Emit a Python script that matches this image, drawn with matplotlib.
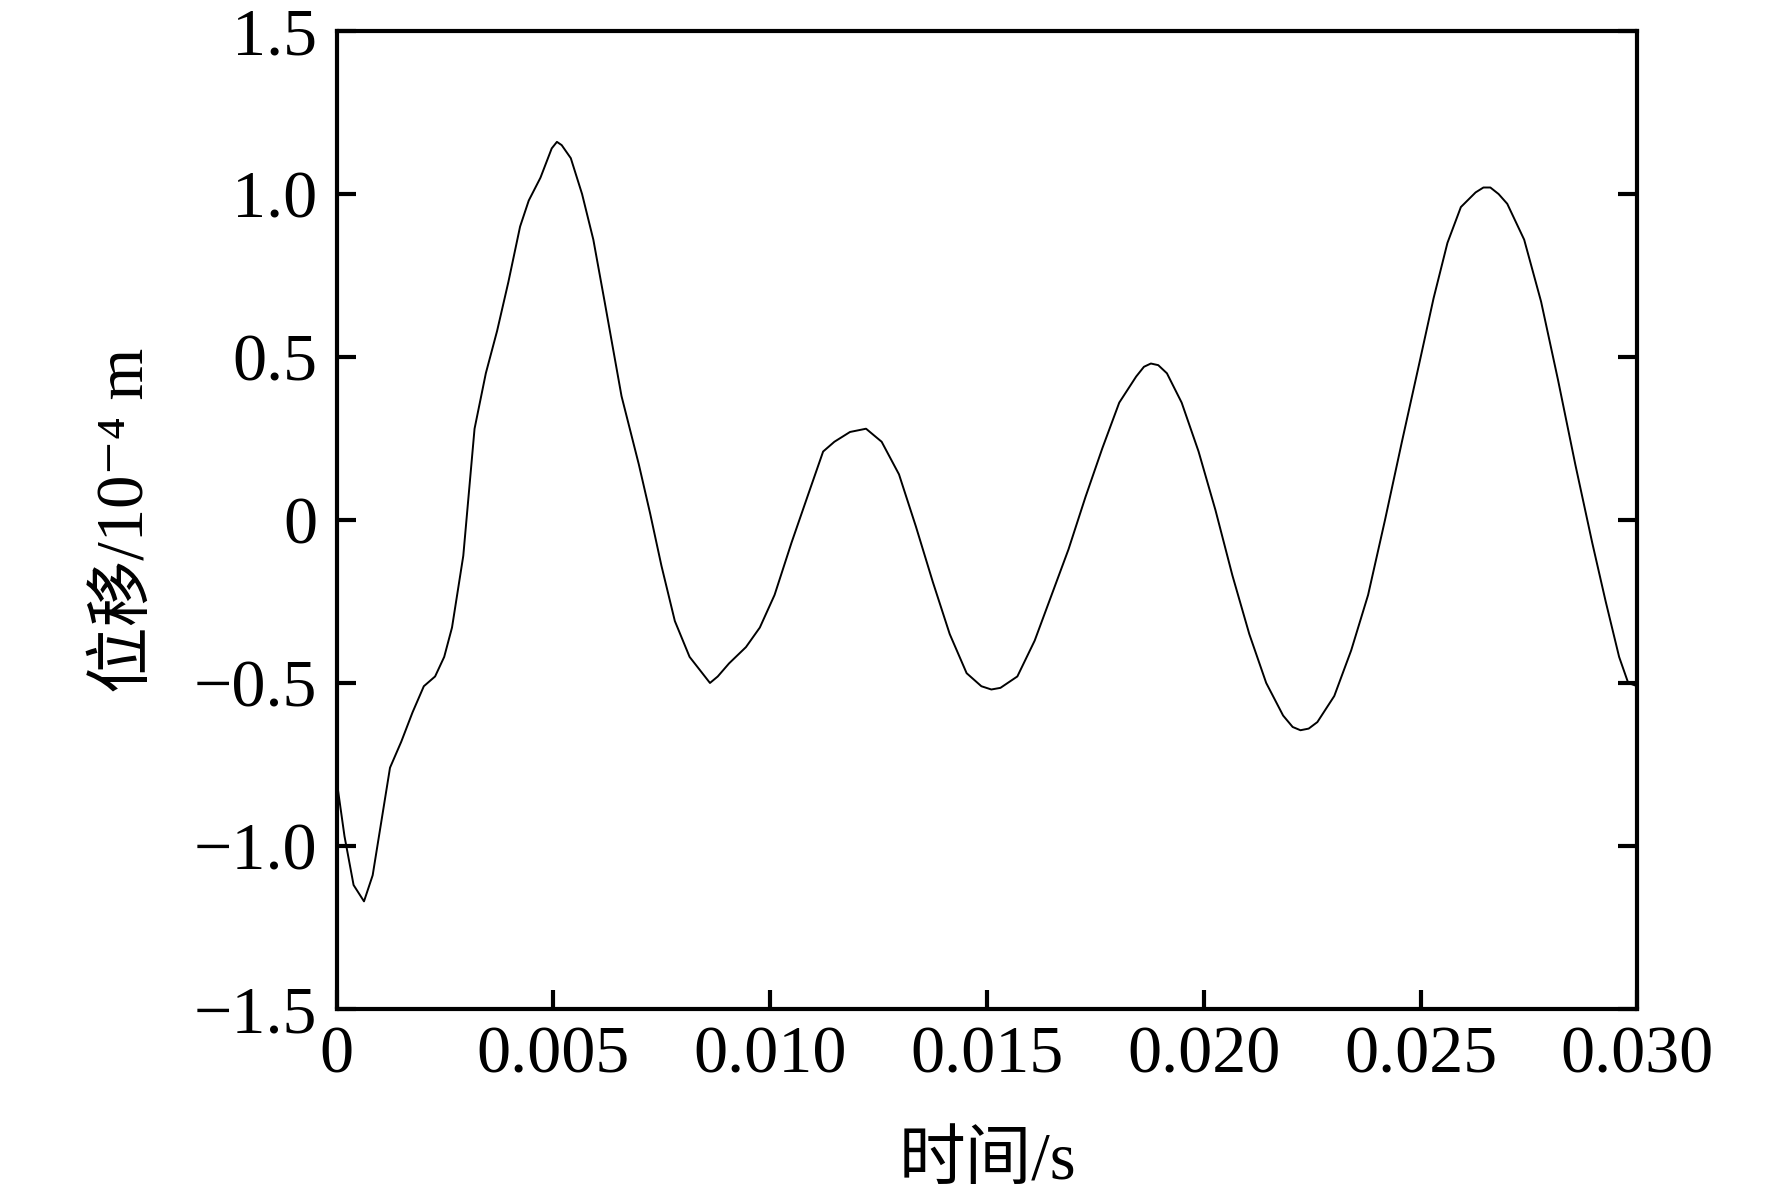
import matplotlib
matplotlib.use("Agg")
import matplotlib.pyplot as plt
from matplotlib.ticker import FuncFormatter

plt.rcParams['font.family'] = ['Liberation Serif', 'Noto Sans CJK SC', 'DejaVu Sans']

time_s = [0.0, 0.00018, 0.00039, 0.00063, 0.00083, 0.00123, 0.00149, 0.00175, 0.00201, 0.00227,
          0.00248, 0.00266, 0.00292, 0.00318, 0.00344, 0.00370, 0.00396, 0.00423, 0.00443, 0.00470,
          0.00496, 0.00508, 0.00519, 0.00540, 0.00566, 0.00592, 0.00618, 0.00657, 0.00697, 0.00723, 0.00749,
          0.00780, 0.00814, 0.00861, 0.00879, 0.00905, 0.00944, 0.00976, 0.01010, 0.01049, 0.01088,
          0.01122, 0.01148, 0.01184, 0.01221, 0.01257, 0.01297, 0.01336, 0.01375, 0.01414, 0.01453,
          0.01487, 0.01510, 0.01531, 0.01570, 0.01610, 0.01649, 0.01688, 0.01727, 0.01766, 0.01805, 0.01844,
          0.01862, 0.01878, 0.01895, 0.01915, 0.01949, 0.01988, 0.02027, 0.02066, 0.02105, 0.02144, 0.02183,
          0.02205, 0.02223, 0.02242, 0.02262, 0.02301, 0.02340, 0.02379, 0.02418, 0.02457, 0.02497, 0.02530,
          0.02562, 0.02593, 0.02627, 0.02645, 0.02661, 0.02680, 0.02700, 0.02739, 0.02778, 0.02817, 0.02857,
          0.02896, 0.02927, 0.02958, 0.02979, 0.03000]
displacement = [-0.80, -0.97, -1.12, -1.17, -1.09, -0.76, -0.68, -0.59, -0.51, -0.48,
                -0.42, -0.33, -0.11, 0.28, 0.45, 0.58, 0.73, 0.90, 0.98, 1.05,
                1.14, 1.16, 1.15, 1.11, 1.00, 0.86, 0.67, 0.38, 0.17, 0.02, -0.14,
                -0.31, -0.42, -0.50, -0.48, -0.44, -0.39, -0.33, -0.23, -0.07, 0.08,
                0.21, 0.24, 0.27, 0.28, 0.24, 0.14, -0.02, -0.19, -0.35, -0.47,
                -0.51, -0.52, -0.515, -0.48, -0.37, -0.23, -0.09, 0.07, 0.22, 0.36, 0.44,
                0.47, 0.48, 0.475, 0.45, 0.36, 0.21, 0.03, -0.17, -0.35, -0.50, -0.60,
                -0.635, -0.645, -0.64, -0.62, -0.54, -0.40, -0.23, 0.00, 0.24, 0.48, 0.68,
                0.85, 0.96, 1.005, 1.02, 1.02, 1.00, 0.97, 0.86, 0.67, 0.43, 0.17,
                -0.07, -0.25, -0.42, -0.50, -0.51]

x_ticks = [0, 0.005, 0.010, 0.015, 0.020, 0.025, 0.030]
y_ticks = [-1.5, -1.0, -0.5, 0, 0.5, 1.0, 1.5]

fig = plt.figure(figsize=(17.72, 11.94), dpi=100)
ax = fig.add_axes([0.190, 0.155, 0.734, 0.819])
ax.plot(time_s, displacement, color='black', linewidth=1.4)
ax.set_xlim(0, 0.030)
ax.set_ylim(-1.5, 1.5)
ax.set_xticks(x_ticks)
ax.set_yticks(y_ticks)

def fmt_x(v, pos):
    if abs(v) < 1e-12:
        return '0'
    return f'{v:.3f}'

def fmt_y(v, pos):
    if abs(v) < 1e-12:
        return '0'
    return f'{v:.1f}'.replace('-', '\u2212')

ax.xaxis.set_major_formatter(FuncFormatter(fmt_x))
ax.yaxis.set_major_formatter(FuncFormatter(fmt_y))
ax.tick_params(axis='both', direction='in', length=14, width=3, labelsize=49)
ax.tick_params(axis='x', pad=12, top=False)
ax.tick_params(axis='y', pad=14, right=True)
for s in ax.spines.values():
    s.set_linewidth(3)

ax.set_xlabel('时间/s', fontsize=48)
ax.xaxis.set_label_coords(0.5, -0.157)
ax.xaxis.label.set_va('center')
ax.set_ylabel('位移/10\u207b\u2074 m', fontsize=48)
ax.yaxis.set_label_coords(-0.162, 0.5)
ax.yaxis.label.set_va('center')

fig.savefig('out.png', dpi=100)
